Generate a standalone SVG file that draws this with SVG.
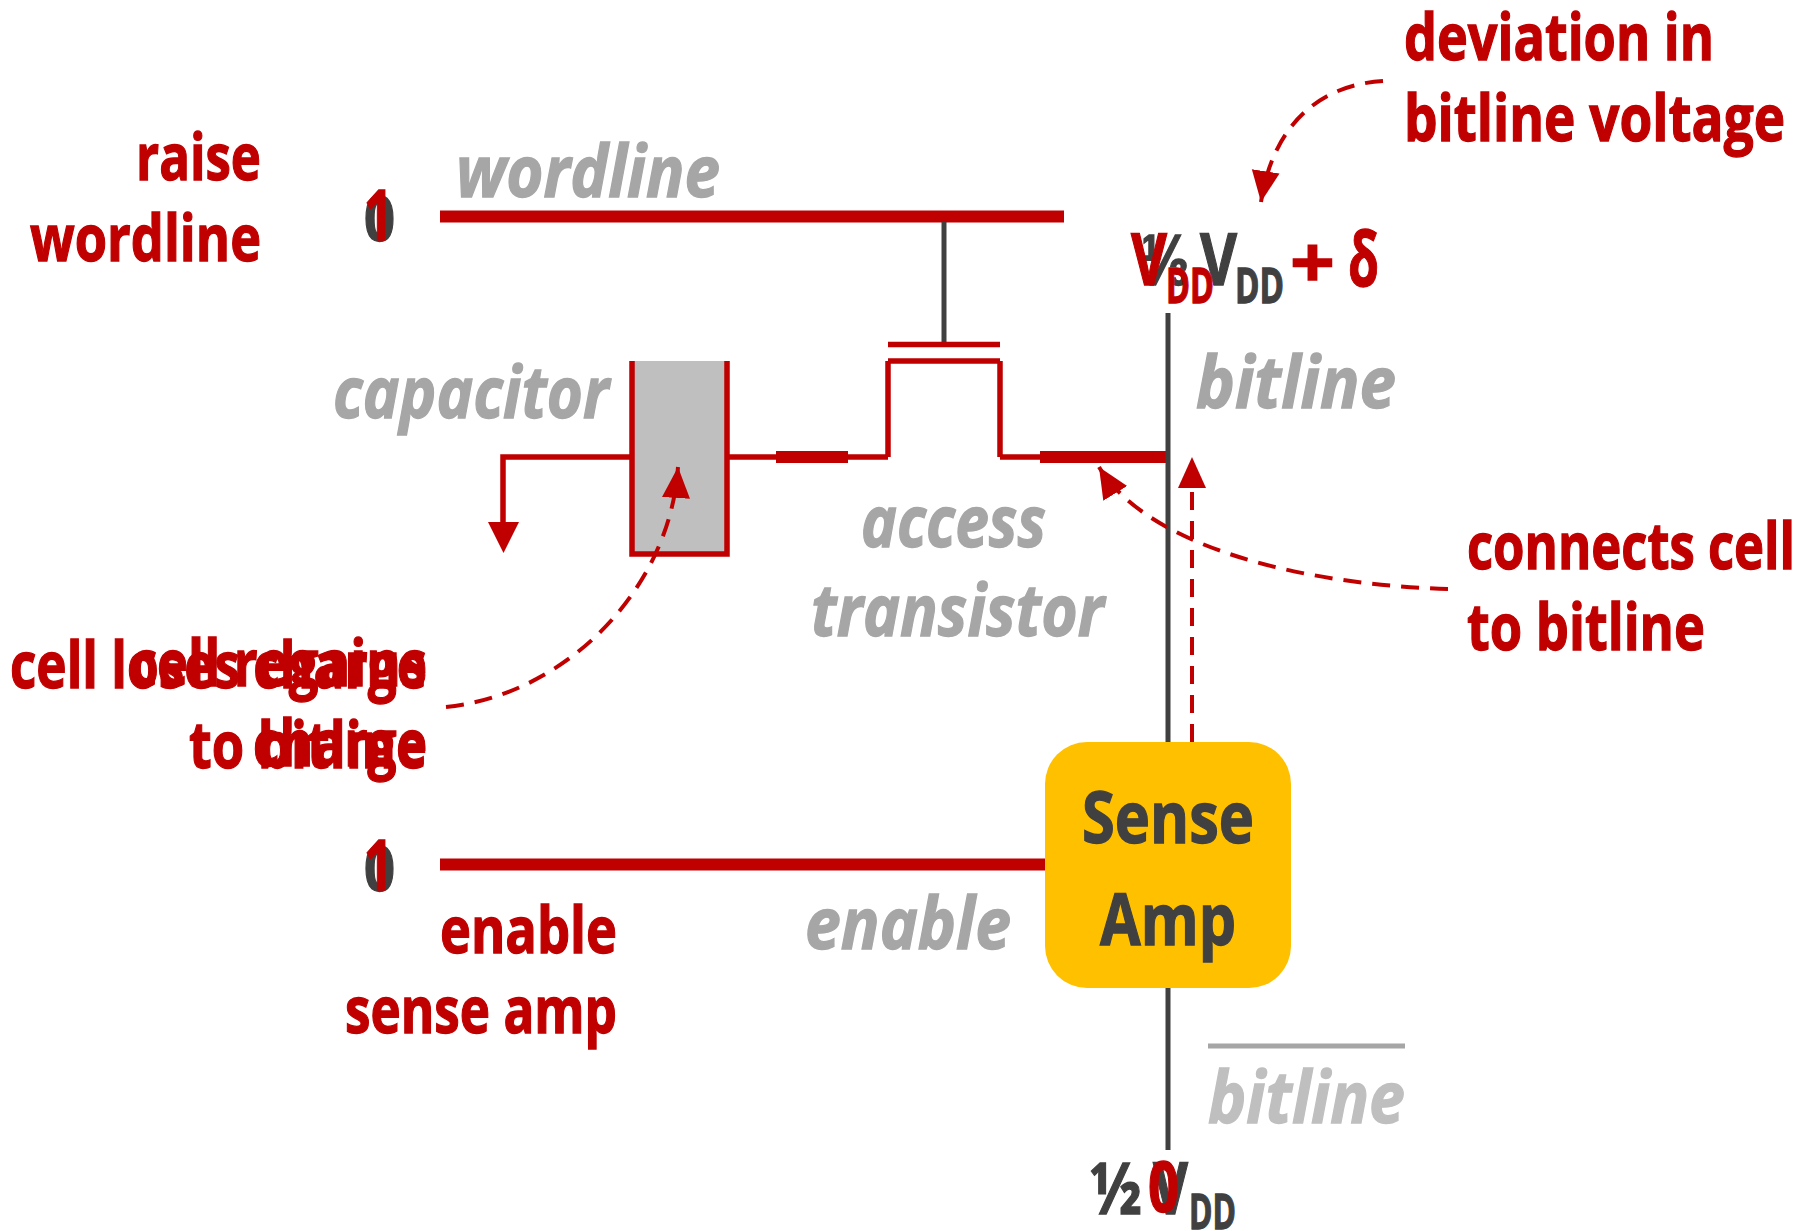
<svg xmlns="http://www.w3.org/2000/svg" width="1812" height="1231" viewBox="0 0 1812 1231">
<defs>
<marker id="ah" markerUnits="userSpaceOnUse" markerWidth="34" markerHeight="30" refX="31" refY="14" orient="auto"><path d="M0 0L31 14L0 28Z" fill="#c00000"/></marker>
</defs>
<style>
text{font-family:"Open Sans","Liberation Sans",sans-serif;font-weight:700}
.r{fill:#c00000;stroke:#c00000;stroke-width:1.3px;font-size:64px}
.g{fill:#a6a6a6;stroke:#a6a6a6;stroke-width:1.3px;font-size:71px;font-style:italic}
.d{fill:#404040;stroke:#404040;stroke-width:1.3px}
.w{fill:none;stroke:#c00000;stroke-width:5.5}
.t{fill:none;stroke:#c00000;stroke-width:12}
.k{fill:none;stroke:#404040;stroke-width:5}
.a{fill:none;stroke:#c00000;stroke-width:4;stroke-dasharray:18 11}
</style>
<g id="capacitor"><rect x="632" y="361" width="95" height="193" fill="#bfbfbf"/><path class="w" d="M632 361V554H727V361"/><text class="g" x="333" y="418" textLength="276" lengthAdjust="spacingAndGlyphs">capacitor</text></g>
<g id="connectors">
<path class="t" d="M440 216.500H1064"/>
<path class="k" d="M944 222V345"/>
<path class="w" d="M888 344.500H1000"/>
<path class="w" d="M888 361H1000M888 361V457M1000 361V457"/>
<path class="w" d="M631 457H503V525"/>
<path d="M488 522H519L503.500 553Z" fill="#c00000"/>
<path class="w" d="M727 457H888M1000 457H1168"/>
<path class="t" d="M776 457H848M1040 457H1168"/>
<path class="k" d="M1168 313V742M1168 986V1150"/>
<path class="t" d="M440 864.500H1046"/>
<path class="a" d="M1192 742V457" marker-end="url(#ah)"/>
<path class="a" d="M1448 589C1310 585 1150 550 1099 467" marker-end="url(#ah)"/>
<path class="a" d="M446 707C565 695 670 590 678 467" marker-end="url(#ah)"/>
<path class="a" d="M1383 81C1315 85 1272 130 1261 202" marker-end="url(#ah)"/>
<path d="M1208 1046H1405" stroke="#a6a6a6" stroke-width="5" fill="none"/>
</g>
<g id="sense-amp"><rect x="1045" y="742" width="246" height="246" rx="42" fill="#ffc000"/><text class="d" x="1082" y="843" font-size="72" textLength="172" lengthAdjust="spacingAndGlyphs">Sense</text><text class="d" x="1100" y="945" font-size="72" textLength="136" lengthAdjust="spacingAndGlyphs">Amp</text></g>
<g id="labels-gray">
<text class="g" x="456" y="197" textLength="264" lengthAdjust="spacingAndGlyphs">wordline</text>
<text class="g" x="861" y="547" textLength="185" lengthAdjust="spacingAndGlyphs">access</text>
<text class="g" x="811" y="636" textLength="293" lengthAdjust="spacingAndGlyphs">transistor</text>
<text class="g" x="1196" y="408" textLength="200" lengthAdjust="spacingAndGlyphs">bitline</text>
<text class="g" x="805" y="949" textLength="206" lengthAdjust="spacingAndGlyphs">enable</text>
<text class="g" x="1208" y="1123" textLength="197" lengthAdjust="spacingAndGlyphs" style="fill:#bfbfbf;stroke:#bfbfbf">bitline</text>
</g>
<g id="labels-red">
<text class="r" x="1404" y="60" textLength="310" lengthAdjust="spacingAndGlyphs">deviation in</text>
<text class="r" x="1404" y="141" textLength="381" lengthAdjust="spacingAndGlyphs">bitline voltage</text>
<text class="r" x="136" y="180" textLength="125" lengthAdjust="spacingAndGlyphs">raise</text>
<text class="r" x="30" y="261" textLength="231" lengthAdjust="spacingAndGlyphs">wordline</text>
<text class="r" x="1467" y="569" textLength="328" lengthAdjust="spacingAndGlyphs">connects cell</text>
<text class="r" x="1467" y="650" textLength="238" lengthAdjust="spacingAndGlyphs">to bitline</text>
<text class="r" x="440" y="953" textLength="177" lengthAdjust="spacingAndGlyphs">enable</text>
<text class="r" x="345" y="1033" textLength="272" lengthAdjust="spacingAndGlyphs">sense amp</text>
<text class="r" x="10" y="688" textLength="417" lengthAdjust="spacingAndGlyphs">cell loses charge</text>
<text class="r" x="189" y="768" textLength="238" lengthAdjust="spacingAndGlyphs">to bitline</text>
<text class="r" x="130" y="686" textLength="297" lengthAdjust="spacingAndGlyphs">cell regains</text>
<text class="r" x="253" y="766" textLength="174" lengthAdjust="spacingAndGlyphs">charge</text>
</g>
<g id="levels">
<text class="d" x="364" y="241" font-size="62" textLength="31" lengthAdjust="spacingAndGlyphs">0</text>
<text class="r" x="364" y="240" textLength="29" lengthAdjust="spacingAndGlyphs" style="font-size:70px">1</text>
<text class="d" x="364" y="891" font-size="62" textLength="31" lengthAdjust="spacingAndGlyphs">0</text>
<text class="r" x="364" y="890" textLength="29" lengthAdjust="spacingAndGlyphs" style="font-size:70px">1</text>
<text class="d" x="1141" y="285" font-size="72" textLength="48" lengthAdjust="spacingAndGlyphs">⅓</text>
<text class="d" x="1200" y="285" font-size="72" textLength="37" lengthAdjust="spacingAndGlyphs">V</text>
<text class="d" x="1235" y="303" font-size="49" textLength="49" lengthAdjust="spacingAndGlyphs">DD</text>
<text class="r" x="1131" y="285" textLength="36" lengthAdjust="spacingAndGlyphs" style="font-size:72px">V</text>
<text class="r" x="1166" y="303" textLength="48" lengthAdjust="spacingAndGlyphs" style="font-size:49px">DD</text>
<text class="r" x="1290" y="288" textLength="45" lengthAdjust="spacingAndGlyphs" style="font-size:72px">+</text>
<text class="r" x="1348" y="286" textLength="31" lengthAdjust="spacingAndGlyphs" style="font-size:76px">δ</text>
<text class="d" x="1090" y="1214" font-size="72" textLength="52" lengthAdjust="spacingAndGlyphs">½</text>
<text class="d" x="1153" y="1214" font-size="72" textLength="35" lengthAdjust="spacingAndGlyphs">V</text>
<text class="d" x="1189" y="1229" font-size="49" textLength="47" lengthAdjust="spacingAndGlyphs">DD</text>
<text class="r" x="1148" y="1212" textLength="31" lengthAdjust="spacingAndGlyphs" style="font-size:70px">0</text>
</g>
</svg>
